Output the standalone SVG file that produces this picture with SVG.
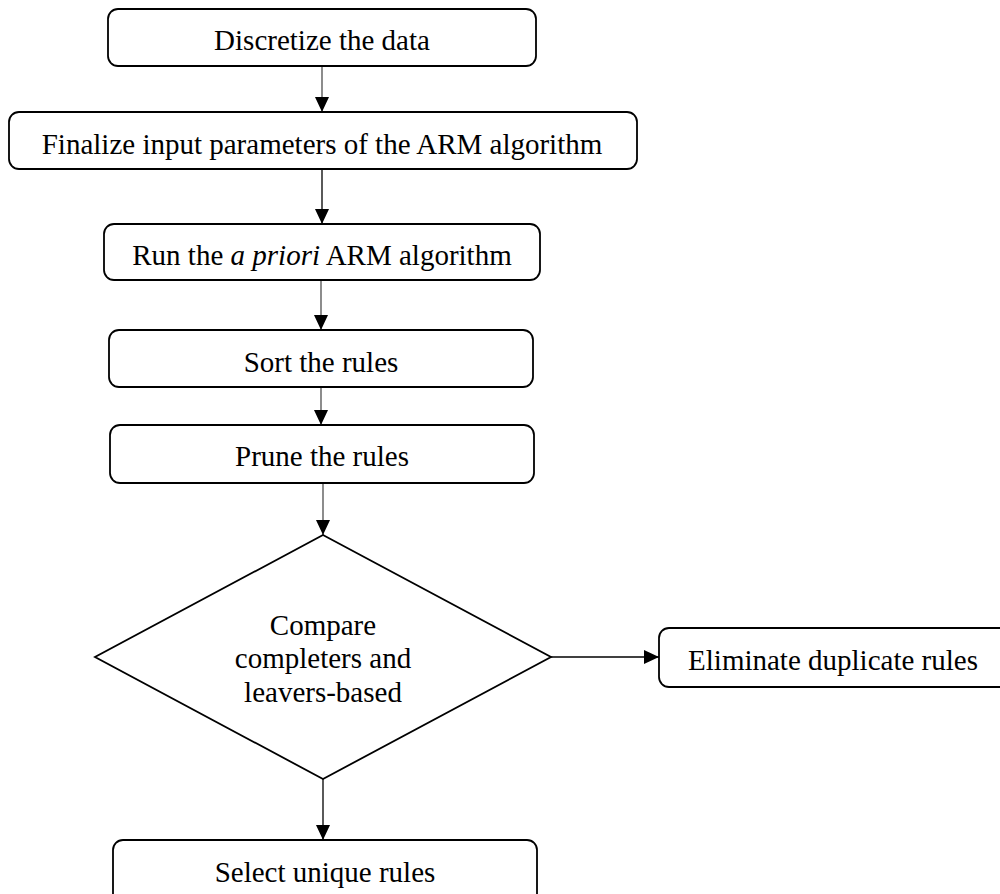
<svg xmlns="http://www.w3.org/2000/svg" width="1000" height="894" viewBox="0 0 1000 894">
<defs>
<style>
.box{fill:#fff;stroke:#000;stroke-width:1.8}
.t{font-family:"Liberation Serif","Times New Roman",serif;font-size:29px;fill:#000;text-anchor:middle}
.g{stroke:#808080;stroke-width:1.8;fill:none}
.k{stroke:#000;stroke-width:1.3;fill:none}
</style>
<marker id="ah" viewBox="0 0 15 14" refX="15" refY="7" markerWidth="15" markerHeight="14" markerUnits="userSpaceOnUse" orient="auto">
<path d="M0,0 L15,7 L0,14 Z" fill="#000"/>
</marker>
</defs>
<rect width="1000" height="894" fill="#fff"/>
<g id="connectors">
<line class="g" x1="322" y1="66" x2="322" y2="112" marker-end="url(#ah)"/>
<line class="k" x1="322" y1="169" x2="322" y2="224" marker-end="url(#ah)"/>
<line class="g" x1="321" y1="280" x2="321" y2="330" marker-end="url(#ah)"/>
<line class="g" x1="321" y1="387" x2="321" y2="425" marker-end="url(#ah)"/>
<line class="g" x1="323" y1="483" x2="323" y2="535" marker-end="url(#ah)"/>
<line class="k" x1="551" y1="657" x2="659" y2="657" marker-end="url(#ah)"/>
<line class="k" x1="323" y1="779" x2="323" y2="840" marker-end="url(#ah)"/>
</g>
<g id="n1"><rect class="box" x="108" y="9" width="428" height="57" rx="10"/><text class="t" x="322" y="50">Discretize the data</text></g>
<g id="n2"><rect class="box" x="9" y="112" width="628" height="57" rx="10"/><text class="t" x="322" y="154">Finalize input parameters of the ARM algorithm</text></g>
<g id="n3"><rect class="box" x="104" y="224" width="436" height="56" rx="10"/><text class="t" x="322" y="265">Run the <tspan font-style="italic">a priori</tspan> ARM algorithm</text></g>
<g id="n4"><rect class="box" x="109" y="330" width="424" height="57" rx="10"/><text class="t" x="321" y="372">Sort the rules</text></g>
<g id="n5"><rect class="box" x="110" y="425" width="424" height="58" rx="10"/><text class="t" x="322" y="466">Prune the rules</text></g>
<g id="n6"><polygon class="box" points="323,535 551,657 323,779 95,657"/>
<text class="t" x="323" y="635">Compare</text>
<text class="t" x="323" y="668">completers and</text>
<text class="t" x="323" y="702">leavers-based</text></g>
<g id="n7"><rect class="box" x="659" y="628" width="360" height="59" rx="10"/><text class="t" x="833" y="670">Eliminate duplicate rules</text></g>
<g id="n8"><rect class="box" x="113" y="840" width="424" height="70" rx="10"/><text class="t" x="325" y="882">Select unique rules</text></g>
</svg>
